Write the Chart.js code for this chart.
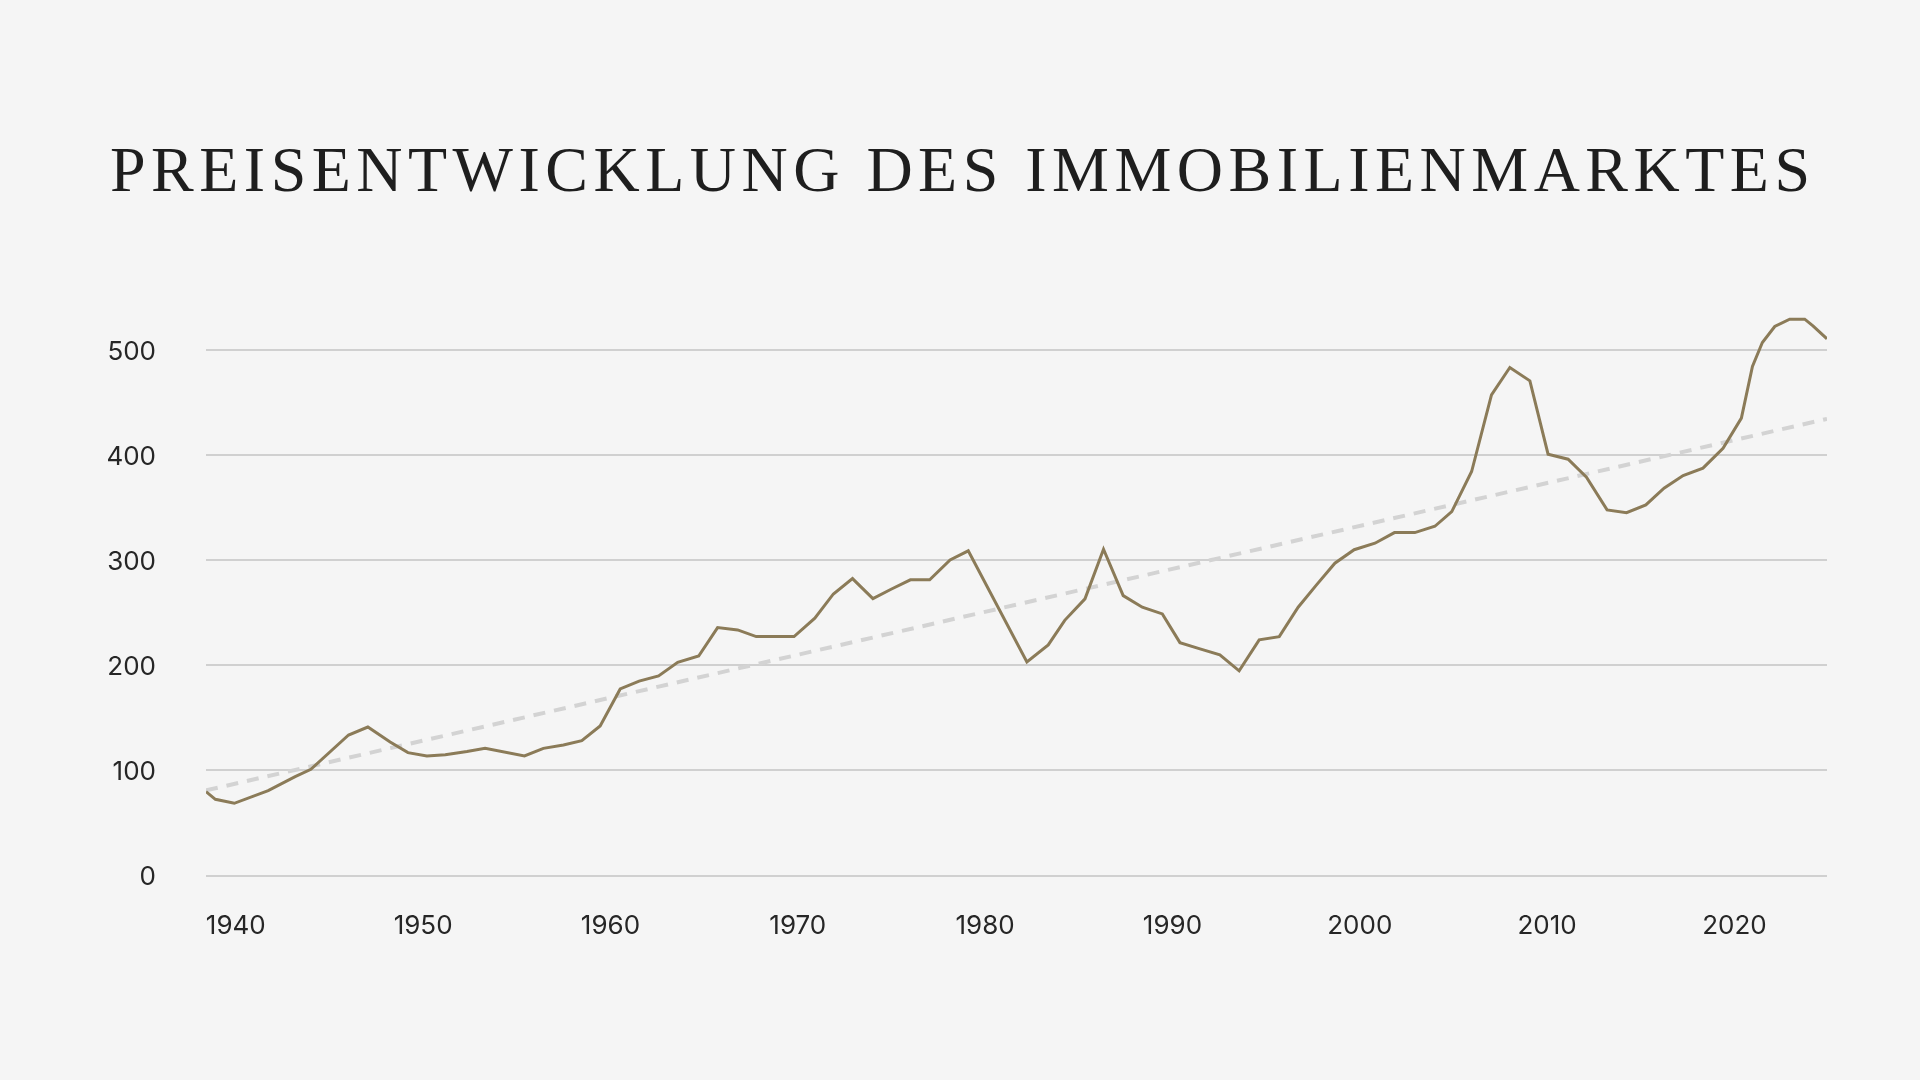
<!DOCTYPE html>
<html lang="de">
<head>
<meta charset="utf-8">
<title>Preisentwicklung des Immobilienmarktes</title>
<script src="https://cdn.jsdelivr.net/npm/chart.js@4"></script>
<style>
  html, body { margin: 0; padding: 0; }
  body {
    width: 1920px;
    height: 1080px;
    background: #f5f5f5;
    position: relative;
    overflow: hidden;
  }
  #titel {
    position: absolute;
    left: 110px;
    top: 138px;
    margin: 0;
    font-family: "Liberation Serif", "DejaVu Serif", serif;
    font-weight: normal;
    font-size: 64px;
    line-height: 1;
    color: #1e1e1e;
    white-space: nowrap;
  }
  #chart {
    position: absolute;
    left: 0;
    top: 0;
  }
</style>
</head>
<body>
<h1 id="titel">PREISENTWICKLUNG DES IMMOBILIENMARKTES</h1>
<canvas id="chart" width="1920" height="1080"></canvas>

<script>
// Daten
const jahre = [1938.41, 1938.91, 1939.92, 1941.73, 1943.17, 1944.01, 1946.02, 1947.05, 1948.24, 1949.19,
  1950.2, 1951.18, 1952.34, 1953.31, 1955.41, 1956.42, 1957.49, 1958.47, 1959.45, 1960.52,
  1961.53, 1962.57, 1963.59, 1964.71, 1965.72, 1966.79, 1967.78, 1968.79, 1969.8, 1970.91,
  1971.9, 1972.92, 1974.01, 1974.98, 1976.01, 1977.04, 1978.13, 1979.1, 1982.23, 1983.37,
  1984.25, 1985.33, 1986.32, 1987.37, 1988.39, 1989.46, 1990.4, 1991.47, 1992.53, 1993.56,
  1994.63, 1995.7, 1996.71, 1997.69, 1998.67, 1999.7, 2000.81, 2001.85, 2002.94, 2004.01,
  2004.91, 2005.97, 2007.03, 2008.01, 2009.08, 2010.05, 2011.12, 2012.1, 2013.2, 2014.24,
  2015.27, 2016.24, 2017.26, 2018.32, 2019.39, 2020.37, 2020.96, 2021.49, 2022.15, 2022.95,
  2023.75, 2024.19, 2024.94];

const preise = [79.8, 72.5, 68.7, 80.7, 94.1, 101.1, 133.7, 141.3, 127, 116.9,
  113.7, 115, 117.9, 121, 113.7, 121, 124.2, 128.3, 142.3, 177.5,
  185, 189.9, 202.8, 208.9, 235.9, 233.7, 227.3, 227.3, 227.3, 244.8,
  267.9, 282.5, 263.5, 272.4, 281.3, 281.3, 300.3, 308.9, 203.2, 219.4,
  242.8, 263.2, 310.5, 266.3, 255.3, 248.9, 221.6, 215.6, 209.9, 194.7,
  224.2, 227.3, 255.3, 276.5, 297.2, 310, 316.2, 326.3, 326.3, 332.3,
  346.3, 384.4, 457.4, 483.4, 470.7, 400.9, 396.1, 379, 347.9, 345.3,
  352.7, 368.5, 380.5, 387.6, 406.6, 435.2, 484.3, 507.2, 522.4, 529.4,
  529.4, 523, 510.7];

// Trendlinie (Anfang und Ende)
const trendJahre = [1938.41, 2024.94];
const trendWerte = [81, 434.5];

// Achsenbeschriftungen
const xTicks = [1940, 1950, 1960, 1970, 1980, 1990, 2000, 2010, 2020];
const yTicks = [0, 100, 200, 300, 400, 500];

// Titel auf volle Breite sperren
const titel = document.getElementById('titel');
const zielBreite = 1700;
const natBreite = titel.getBoundingClientRect().width;
const zeichen = titel.textContent.length;
titel.style.letterSpacing = ((zielBreite - natBreite) / (zeichen - 1)) + 'px';

const labelFont = { family: 'Inter, "Open Sans", sans-serif', size: 26, weight: 400 };

new Chart(document.getElementById('chart').getContext('2d'), {
  type: 'line',
  data: {
    datasets: [{
      label: 'Preisindex',
      data: jahre.map((j, i) => ({ x: j, y: preise[i] })),
      borderColor: '#8b7b58',
      borderWidth: 3,
      pointRadius: 0,
      tension: 0,
      fill: false
    }, {
      label: 'Trend',
      data: trendJahre.map((j, i) => ({ x: j, y: trendWerte[i] })),
      borderColor: '#d3d3d3',
      borderWidth: 4,
      borderDash: [12, 9],
      pointRadius: 0,
      fill: false
    }]
  },
  options: {
    responsive: false,
    animation: false,
    layout: { padding: { top: 308, right: 93, bottom: 0, left: 0 } },
    plugins: {
      legend: { display: false },
      tooltip: { enabled: false }
    },
    scales: {
      x: {
        type: 'linear',
        min: jahre[0],
        max: jahre[jahre.length - 1],
        afterBuildTicks: s => { s.ticks = xTicks.map(v => ({ value: v })); },
        afterFit: s => { s.height = 204.5; },
        grid: { display: false, drawTicks: false },
        border: { display: false },
        ticks: {
          color: '#262626',
          font: labelFont,
          padding: 35,
          maxRotation: 0,
          autoSkip: false,
          callback: v => String(v)
        }
      },
      y: {
        min: 0,
        max: 540,
        afterBuildTicks: s => { s.ticks = yTicks.map(v => ({ value: v })); },
        afterFit: s => { s.width = 206; },
        grid: { color: '#d0d0d0', lineWidth: 2, drawTicks: false },
        border: { display: false },
        ticks: {
          color: '#262626',
          font: labelFont,
          padding: 50,
          labelOffset: 2,
          callback: v => String(v)
        }
      }
    }
  }
});
</script>
</body>
</html>
